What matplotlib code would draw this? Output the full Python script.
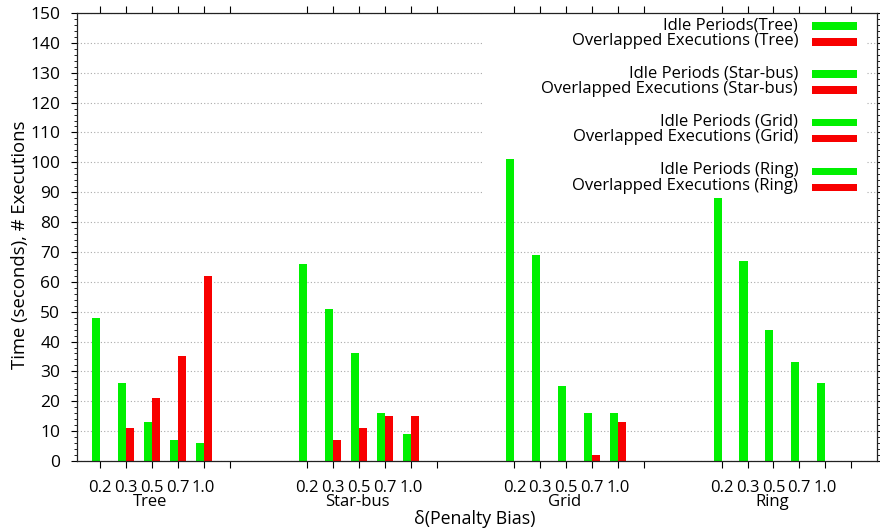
import numpy as np
import matplotlib as mpl
mpl.use('Agg')
import matplotlib.pyplot as plt
from matplotlib.patches import Rectangle
from matplotlib.ticker import MultipleLocator

# data: idle periods / overlapped executions per topology and penalty bias
topologies = ['Tree', 'Star-bus', 'Grid', 'Ring']
deltas = ['0.2', '0.3', '0.5', '0.7', '1.0']
idle_tree = [48, 26, 13, 7, 6]
over_tree = [0, 11, 21, 35, 62]
idle_star = [66, 51, 36, 16, 9]
over_star = [0, 7, 11, 15, 15]
idle_grid = [101, 69, 25, 16, 16]
over_grid = [0, 0, 0, 2, 13]
idle_ring = [88, 67, 44, 33, 26]
over_ring = [0, 0, 0, 0, 0]

idle = [idle_tree, idle_star, idle_grid, idle_ring]
over = [over_tree, over_star, over_grid, over_ring]

green = '#00f000'
red = '#f80000'

plt.rcParams['font.family'] = ['Open Sans', 'DejaVu Sans']
ftsize = 12

W, H = 880, 529
fig = plt.figure(figsize=(W / 100, H / 100), dpi=100)

# axes box in pixels
ax_l, ax_r, ax_t, ax_b = 77, 876.5, 13, 461
ax = fig.add_axes([ax_l / W, 1 - ax_b / H, (ax_r - ax_l) / W, (ax_b - ax_t) / H])

def px2fig(x, y):
    return x / W, 1 - y / H

# 8 slots per group: 5 bars, one empty tick, two blank
group_step = 8
bar_w = 0.31
tick_pos = []
tick_lab = []
for g, name in enumerate(topologies):
    x0 = g * group_step
    xs = x0 + np.arange(len(deltas))
    ax.bar(xs, idle[g], width=-bar_w, align='edge', color=green,
           edgecolor='none', zorder=1)
    ax.bar(xs, over[g], width=bar_w, align='edge', color=red,
           edgecolor='none', zorder=1)
    tick_pos += list(xs) + [x0 + len(deltas)]
    tick_lab += deltas + ['']
    ax.text(x0 + 1.95, -(502 - ax_b) / (ax_b - ax_t), name,
            transform=ax.get_xaxis_transform(),
            ha='center', va='center', fontsize=ftsize)

ax.set_xlim(-0.89, 29.98)
ax.set_ylim(0, 150)
ax.set_xticks(tick_pos)
ax.set_xticklabels(tick_lab, fontsize=ftsize)
ax.set_yticks(np.arange(0, 151, 10))
ax.yaxis.set_minor_locator(MultipleLocator(2))
ax.tick_params(axis='y', labelsize=12.5, direction='out',
               length=4, width=0.8, right=True, pad=8)
ax.tick_params(axis='y', which='minor', direction='out',
               length=2.2, width=0.6, right=True)
ax.tick_params(axis='x', direction='out', length=5, width=0.8,
               top=True, pad=8.5)
for s in ax.spines.values():
    s.set_linewidth(0.9)
    s.set_color('#222222')

ax.set_axisbelow(True)
ax.yaxis.grid(True, color='#aaaaaa', linestyle=(0, (1, 2)), linewidth=0.8)

# key area hides the grid lines behind it
kx0, kx1, ky0, ky1 = 483, 866, ax_t, 205
ax.add_patch(Rectangle(((kx0 - ax_l) / (ax_r - ax_l), (ax_b - ky1) / (ax_b - ax_t)),
                       (kx1 - kx0) / (ax_r - ax_l), (ky1 - ky0) / (ax_b - ax_t),
                       transform=ax.transAxes, facecolor='white',
                       edgecolor='none', zorder=0.8))

# key entries
key_labels = ['Idle Periods(Tree)', 'Overlapped Executions (Tree)',
              'Idle Periods (Star-bus)', 'Overlapped Executions (Star-bus)',
              'Idle Periods (Grid)', 'Overlapped Executions (Grid)',
              'Idle Periods (Ring)', 'Overlapped Executions (Ring)']
key_colors = [green, red] * 4
key_rows = [26, 42, 74, 90, 122.7, 138, 171.3, 187.3]
for lab, col, yy in zip(key_labels, key_colors, key_rows):
    fx, fy = px2fig(798, yy - 1)
    fig.text(fx, fy, lab, ha='right', va='center', fontsize=ftsize)
    rx, ry = px2fig(812, yy + 3.5)
    fig.add_artist(Rectangle((rx, ry), 45 / W, 7 / H, transform=fig.transFigure,
                             facecolor=col, edgecolor='none'))

# axis titles
fx, fy = px2fig(475, 519)
fig.text(fx, fy, '\u03b4(Penalty Bias)', ha='center', va='center', fontsize=12.8)
fx, fy = px2fig(20, 245)
fig.text(fx, fy, 'Time (seconds), # Executions', ha='center', va='center',
         rotation=90, fontsize=13.3)

plt.savefig('out.png', dpi=100)
